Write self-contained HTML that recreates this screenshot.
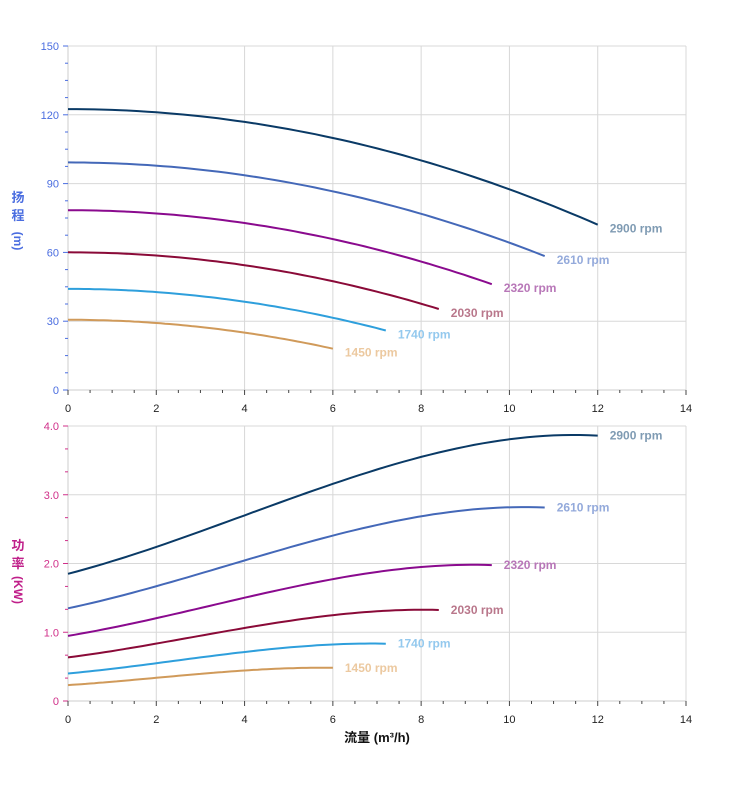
<!DOCTYPE html><html><head><meta charset="utf-8"><style>
body{margin:0;background:#fff}
svg text{font-family:"Liberation Sans","Noto Sans CJK SC",sans-serif}
</style></head><body>
<svg id="s" width="752" height="797" xmlns="http://www.w3.org/2000/svg"></svg>
<script>
const s=document.getElementById('s');let h='';
const X=q=>68+q*618/14;
const Yt=v=>390-v*344/150;
const Yb=v=>701-v*275/4;
for(let q=2;q<=14;q+=2){h+=`<line x1="${X(q)}" y1="46" x2="${X(q)}" y2="390" stroke="#d8d8d8"/><line x1="${X(q)}" y1="426" x2="${X(q)}" y2="701" stroke="#d8d8d8"/>`;}
for(let v=30;v<=150;v+=30)h+=`<line x1="68" y1="${Yt(v)}" x2="686" y2="${Yt(v)}" stroke="#d8d8d8"/>`;
for(let v=1;v<=4;v++)h+=`<line x1="68" y1="${Yb(v)}" x2="686" y2="${Yb(v)}" stroke="#d8d8d8"/>`;
h+=`<line x1="68" y1="46" x2="68" y2="390" stroke="#ccc"/><line x1="68" y1="390" x2="686" y2="390" stroke="#ccc"/>`;
h+=`<line x1="68" y1="426" x2="68" y2="701" stroke="#ccc"/><line x1="68" y1="701" x2="686" y2="701" stroke="#ccc"/>`;
for(let i=0;i<=20;i++){let v=i*7.5,y=Yt(v);h+=`<line x1="${i%4?65:63}" y1="${y}" x2="68" y2="${y}" stroke="#4a6de0"/>`;if(i%4==0)h+=`<text x="59" y="${y+4}" font-size="11" fill="#4a6de0" text-anchor="end">${v}</text>`;}
for(let i=0;i<=12;i++){let v=i/3,y=Yb(v);h+=`<line x1="${i%3?65:63}" y1="${y}" x2="68" y2="${y}" stroke="#d0308a"/>`;if(i%3==0)h+=`<text x="59" y="${y+4}" font-size="11" fill="#d0308a" text-anchor="end">${v==0?'0':v.toFixed(1)}</text>`;}
for(let i=0;i<=28;i++){let x=X(i/2);for(const y0 of [390,701]){h+=`<line x1="${x}" y1="${y0}" x2="${x}" y2="${y0+(i%4?3:5)}" stroke="#444"/>`;if(i%4==0)h+=`<text x="${x}" y="${y0+22}" font-size="11" fill="#222" text-anchor="middle">${i/2}</text>`;}}
h+=`<text x="377" y="742" font-size="13" font-weight="bold" fill="#111" text-anchor="middle">流量 (m³/h)</text>`;
h+=`<text x="18" y="202" font-size="13" font-weight="bold" fill="#4a6de0" text-anchor="middle">扬</text><text x="18" y="220" font-size="13" font-weight="bold" fill="#4a6de0" text-anchor="middle">程</text><text transform="translate(14,241) rotate(90)" font-size="12" font-weight="bold" fill="#4a6de0" text-anchor="middle">(m)</text>`;
h+=`<text x="18" y="550" font-size="13" font-weight="bold" fill="#c0208a" text-anchor="middle">功</text><text x="18" y="568" font-size="13" font-weight="bold" fill="#c0208a" text-anchor="middle">率</text><text transform="translate(14,590) rotate(90)" font-size="12" font-weight="bold" fill="#c0208a" text-anchor="middle">(KW)</text>`;
const S=[[2900,'#0a3a66','#7f9bb3'],[2610,'#4468b8','#94aadb'],[2320,'#8a0a8e','#b877b8'],[2030,'#8a0a38','#b9778b'],[1740,'#2e9fdc','#94c9ee'],[1450,'#d09a5a','#ecc9a0']];
const f=q=>1.85+0.1675*q+0.016875*q*q-0.001406*q*q*q;
for(const [n,c,lc] of S){const r=n/2900,qm=12*r;let p1='',p2='';
for(let i=0;i<=60;i++){let q=qm*i/60;p1+=(i?'L':'M')+X(q).toFixed(1)+','+Yt(122.5*r*r-0.35*q*q).toFixed(1);p2+=(i?'L':'M')+X(q).toFixed(1)+','+Yb(r*r*r*f(q/r)).toFixed(1);}
h+=`<path d="${p1}" fill="none" stroke="${c}" stroke-width="2"/><path d="${p2}" fill="none" stroke="${c}" stroke-width="2"/>`;
let ex=X(qm);h+=`<text x="${ex+12}" y="${Yt(72.1*r*r)+8}" font-size="12" font-weight="bold" fill="${lc}">${n} rpm</text>`;
h+=`<text x="${ex+12}" y="${Yb(r*r*r*f(12))+4}" font-size="12" font-weight="bold" fill="${lc}">${n} rpm</text>`;}
s.innerHTML=h;
</script></body></html>
